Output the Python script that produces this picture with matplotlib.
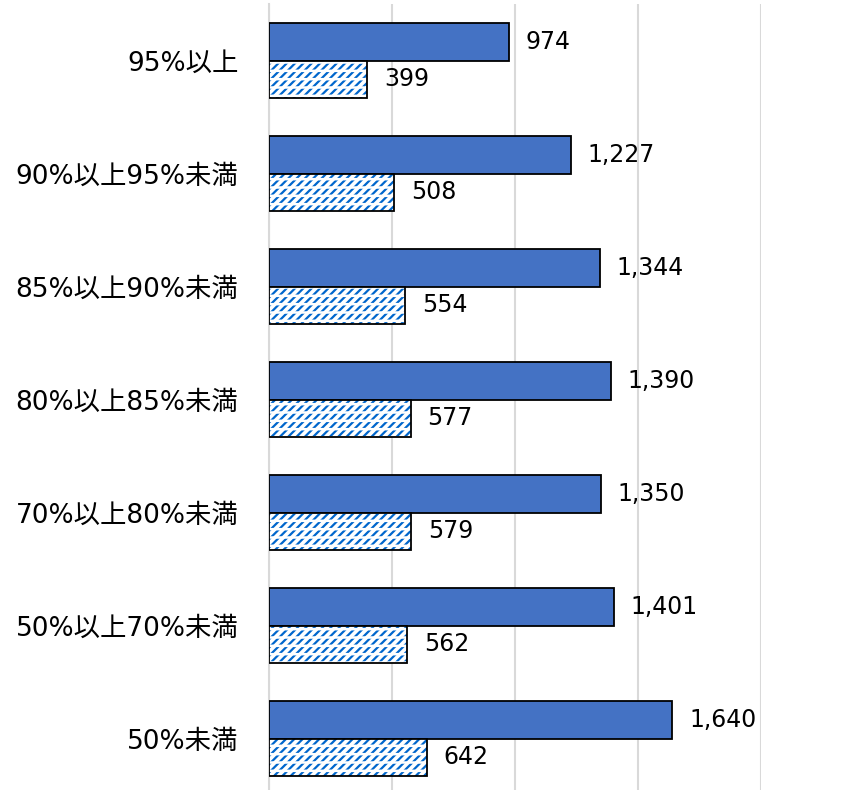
import matplotlib.pyplot as plt
import numpy as np

plt.rcParams['font.family'] = ['DejaVu Sans', 'Noto Sans CJK JP']

categories = ["95%以上", "90%以上95%未満", "85%以上90%未満", "80%以上85%未満",
              "70%以上80%未満", "50%以上70%未満", "50%未満"]
series_a = [974, 1227, 1344, 1390, 1350, 1401, 1640]
series_b = [399, 508, 554, 577, 579, 562, 642]

fig = plt.figure(figsize=(8.41, 7.9), dpi=100)
ax = fig.add_axes([269/841, -5/790, 492/841, 791/790])

y = np.arange(len(categories))
h = 0.336

ax.barh(y - h/2, series_a, height=h, color="#4472C4", edgecolor="black", linewidth=1.3, zorder=3)

# hatched bars: blue diagonal hatch broken into dashes by a white horizontal hatch
plt.rcParams['hatch.linewidth'] = 1.6
ax.barh(y + h/2, series_b, height=h, color="white", edgecolor="#0066CC", hatch="////",
        linewidth=0, zorder=3)
plt.rcParams['hatch.linewidth'] = 1.8
ax.barh(y + h/2, series_b, height=h, fill=False, edgecolor="white", hatch="--",
        linewidth=0, zorder=3.5)
ax.barh(y + h/2, series_b, height=h, fill=False, edgecolor="black", linewidth=1.3, zorder=4)

for i in range(len(categories)):
    ax.annotate(f"{series_a[i]:,}", (series_a[i], y[i] - h/2), xytext=(12, 0),
                textcoords="offset points", va="center", ha="left", fontsize=17,
                annotation_clip=False)
    ax.annotate(f"{series_b[i]:,}", (series_b[i], y[i] + h/2), xytext=(12, 0),
                textcoords="offset points", va="center", ha="left", fontsize=17,
                annotation_clip=False)

ax.set_xlim(0, 2000)
ax.set_ylim(len(categories) - 0.5, -0.5)
ax.set_xticks([0, 500, 1000, 1500, 2000])
ax.set_xticklabels([])
ax.set_yticks(y)
ax.set_yticklabels(categories, fontsize=19)
ax.tick_params(axis='y', length=0, pad=22)
ax.tick_params(axis='x', length=0)
ax.grid(axis='x', color="#D9D9D9", linewidth=1.5, zorder=0)
for s in ["top", "right", "bottom"]:
    ax.spines[s].set_visible(False)
ax.spines["left"].set_color("#D9D9D9")
ax.spines["left"].set_linewidth(1.5)

fig.savefig("out.png", dpi=100)
